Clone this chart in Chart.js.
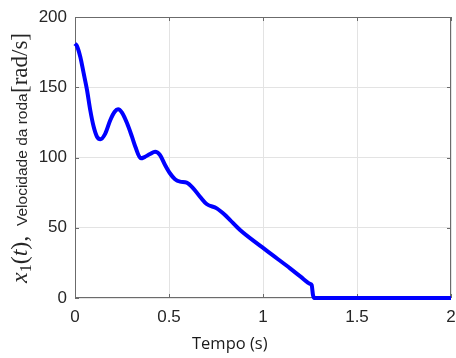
<!DOCTYPE html>
<html>
<head>
<meta charset="utf-8">
<script src="https://cdn.jsdelivr.net/npm/chart.js@4/dist/chart.umd.min.js"></script>
<style>
html, body { margin: 0; padding: 0; background: #fff; }
canvas { display: block; }
</style>
</head>
<body>
<canvas id="chart" width="456" height="358"></canvas>
<script>
// tempo (s) e velocidade da roda (rad/s)
const tempo = [0, 0.01, 0.028, 0.046, 0.064, 0.081, 0.099, 0.117, 0.135, 0.161, 0.188, 0.211, 0.229,
    0.25, 0.277, 0.303, 0.321, 0.35, 0.37, 0.399, 0.426, 0.452, 0.479, 0.505, 0.532, 0.559, 0.594,
    0.629, 0.665, 0.70, 0.754, 0.798, 0.824, 0.878, 0.984, 1.08, 1.144, 1.2, 1.25, 1.259, 1.266, 1.272, 2.0]
const velocidade = [181, 179.5, 171.7, 160, 148, 133.8, 122, 114.8, 113, 117, 126.7, 132.6, 134.3,
    131.9, 124.3, 114.8, 107.7, 99.4, 100.3, 102.5, 104.1, 101.8, 94.7, 88.8, 84.5, 82.8, 82.1,
    78.1, 72.1, 66.9, 63.8, 59.1, 55.6, 48.4, 37.3, 27.6, 21.1, 15.2, 10.1, 9.2, 2, 0, 0]

const xTicks = [0, 0.5, 1, 1.5, 2]
const yTicks = [0, 50, 100, 150, 200]
const xLabel = "Tempo (s)"

const axisColor = "#262626"

const yLabelParts = [
    { text: "x", font: "italic 24px 'Liberation Serif'", at: -283 },
    { text: "1", font: "16px 'Liberation Serif'", shift: 4 },
    { text: "(", font: "24px 'Liberation Serif'" },
    { text: "t", font: "italic 24px 'Liberation Serif'" },
    { text: "),", font: "24px 'Liberation Serif'" },
    { text: "Velocidade da roda", font: "15.5px 'Liberation Sans'", at: -226 },
    { text: "[rad/s]", font: "23px 'Liberation Serif'", at: -93 }
]

const boxPlugin = {
    id: "box",
    beforeDatasetsDraw(chart) {
        const { ctx, chartArea: a, scales } = chart
        ctx.save()
        ctx.strokeStyle = "#6b6b6b"
        ctx.lineWidth = 1
        ctx.strokeRect(a.left + 0.5, a.top + 0.5, a.right - a.left - 1, a.bottom - a.top - 1)
        ctx.beginPath()
        xTicks.forEach(v => {
            const x = Math.round(scales.x.getPixelForValue(v)) + 0.5
            ctx.moveTo(x, a.bottom); ctx.lineTo(x, a.bottom - 4)
            ctx.moveTo(x, a.top); ctx.lineTo(x, a.top + 4)
        })
        yTicks.forEach(v => {
            const y = Math.round(scales.y.getPixelForValue(v)) + 0.5
            ctx.moveTo(a.left, y); ctx.lineTo(a.left + 4, y)
            ctx.moveTo(a.right, y); ctx.lineTo(a.right - 4, y)
        })
        ctx.stroke()
        ctx.restore()
    },
    afterDraw(chart) {
        const ctx = chart.ctx
        ctx.save()
        ctx.fillStyle = "#1a1a1a"
        ctx.font = "16.5px 'Open Sans'"
        ctx.textAlign = "left"
        ctx.textBaseline = "alphabetic"
        ctx.fillText(xLabel, 192, 349)

        // rotulo do eixo y: partes em fontes diferentes
        ctx.fillStyle = axisColor
        ctx.translate(27, 0)
        ctx.rotate(-Math.PI / 2)
        let u = 0
        yLabelParts.forEach(p => {
            if (p.at !== undefined) u = p.at
            ctx.font = p.font
            ctx.fillText(p.text, u, p.shift || 0)
            u += ctx.measureText(p.text).width
        })
        ctx.restore()
    }
}

new Chart(document.getElementById("chart"), {
    type: "line",
    data: {
        datasets: [{
            data: tempo.map((t, i) => ({ x: t, y: velocidade[i] })),
            borderColor: "#0000ff",
            borderWidth: 4,
            pointRadius: 0,
            cubicInterpolationMode: "monotone",
            clip: false
        }]
    },
    options: {
        responsive: false,
        animation: false,
        layout: { padding: { top: 17, right: 5, left: 0, bottom: 0 } },
        plugins: { legend: { display: false }, tooltip: { enabled: false } },
        scales: {
            x: {
                type: "linear",
                min: 0,
                max: 2,
                afterBuildTicks: s => { s.ticks = xTicks.map(v => ({ value: v })) },
                afterFit: s => { s.height = 60; s.paddingLeft = 0; s.paddingRight = 0 },
                grid: { color: "#e3e3e3", drawTicks: false },
                border: { display: false },
                ticks: { color: axisColor, padding: 9, maxRotation: 0, callback: v => String(v),
                    font: { family: "'Liberation Sans'", size: 17 } }
            },
            y: {
                min: 0,
                max: 200,
                afterBuildTicks: s => { s.ticks = yTicks.map(v => ({ value: v })) },
                afterFit: s => { s.width = 75; s.paddingTop = 0; s.paddingBottom = 0 },
                grid: { color: "#e3e3e3", drawTicks: false },
                border: { display: false },
                ticks: { color: axisColor, padding: 8, callback: v => String(v),
                    font: { family: "'Liberation Sans'", size: 17 } }
            }
        }
    },
    plugins: [boxPlugin]
})
</script>
</body>
</html>
